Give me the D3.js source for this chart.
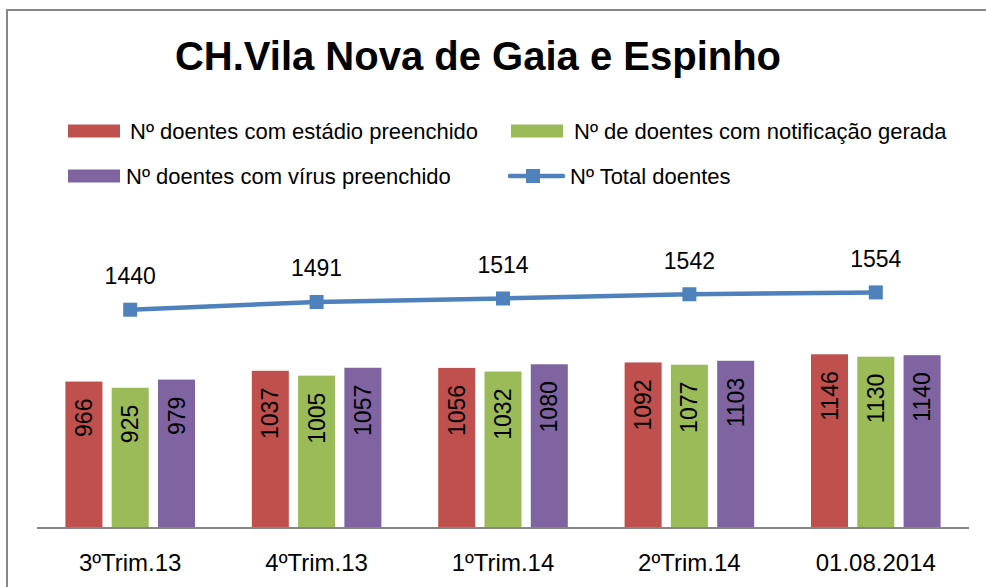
<!DOCTYPE html>
<html>
<head>
<meta charset="utf-8">
<script src="https://cdn.jsdelivr.net/npm/d3@7"></script>
<style>
  html, body { margin: 0; background: #fff; overflow: hidden; }
  svg { display: block; }
  text { font-family: "Liberation Sans", Arial, sans-serif; fill: #000; }
</style>
</head>
<body>
<div id="chart"></div>
<script>
var categories = ["3ºTrim.13", "4ºTrim.13", "1ºTrim.14", "2ºTrim.14", "01.08.2014"];
var seriesNames = ["Nº  doentes com estádio preenchido", "Nº de doentes com notificação gerada", "Nº  doentes com vírus preenchido"];
var estadio = [966, 1037, 1056, 1092, 1146];
var notificacao = [925, 1005, 1032, 1077, 1130];
var virus = [979, 1057, 1080, 1103, 1140];
var totalName = "Nº  Total doentes";
var total = [1440, 1491, 1514, 1542, 1554];

var colors = ["#C0504D", "#9BBB59", "#8064A2"];
var lineColor = "#4F81BD";

var width = 986,
    height = 587;

var svg = d3.select("#chart")
    .append("svg")
    .attr("width", width)
    .attr("height", height);

// chart border: only left and top edges are visible in the original
svg.append("path")
    .attr("d", "M7," + height + "V10H" + width)
    .attr("fill", "none")
    .attr("stroke", "#868686")
    .attr("stroke-width", 2);

svg.append("text")
    .attr("x", 478)
    .attr("y", 70)
    .attr("text-anchor", "middle")
    .style("font-size", "40px")
    .style("font-weight", "bold")
    .text("CH.Vila Nova de Gaia e Espinho");

var x0 = d3.scaleBand()
    .domain(categories)
    .range([37, 969]);

var x1 = d3.scaleBand()
    .domain([0, 1, 2])
    .range([28.4, 158])
    .paddingInner(0.2);

var y = d3.scaleLinear()
    .domain([0, 2000])
    .range([528, 224.8]);

var barData = [estadio, notificacao, virus];

var group = svg.selectAll(".cat")
    .data(categories)
    .enter().append("g")
      .attr("class", "cat")
      .attr("transform", function(d) { return "translate(" + x0(d) + ",0)"; });

group.selectAll("rect")
    .data(function(d, i) { return barData.map(function(s, k) { return {k: k, v: s[i]}; }); })
    .enter().append("rect")
      .attr("x", function(d) { return x1(d.k); })
      .attr("y", function(d) { return y(d.v); })
      .attr("width", x1.bandwidth())
      .attr("height", function(d) { return y(0) - y(d.v); })
      .attr("fill", function(d) { return colors[d.k]; });

group.selectAll(".barLabel")
    .data(function(d, i) { return barData.map(function(s, k) { return {k: k, v: s[i]}; }); })
    .enter().append("text")
      .attr("class", "barLabel")
      .attr("transform", function(d) {
        return "translate(" + (x1(d.k) + x1.bandwidth() / 2) + "," + (y(d.v) + 17) + ") rotate(-90)";
      })
      .attr("text-anchor", "end")
      .attr("dy", ".35em")
      .style("font-size", "23px")
      .text(function(d) { return d.v; });

// axis baseline
svg.append("line")
    .attr("x1", 37)
    .attr("x2", 969)
    .attr("y1", y(0))
    .attr("y2", y(0))
    .attr("stroke", "#868686")
    .attr("stroke-width", 2);

svg.selectAll(".catLabel")
    .data(categories)
    .enter().append("text")
      .attr("class", "catLabel")
      .attr("x", function(d) { return x0(d) + x0.bandwidth() / 2; })
      .attr("y", 571)
      .attr("text-anchor", "middle")
      .style("font-size", "24px")
      .text(function(d) { return d; });

// total line
var cx = function(d, i) { return x0(categories[i]) + x0.bandwidth() / 2; };

var line = d3.line()
    .x(cx)
    .y(function(d) { return y(d); });

svg.append("path")
    .datum(total)
    .attr("d", line)
    .attr("fill", "none")
    .attr("stroke", lineColor)
    .attr("stroke-width", 4.5);

svg.selectAll(".marker")
    .data(total)
    .enter().append("rect")
      .attr("class", "marker")
      .attr("x", function(d, i) { return cx(d, i) - 7; })
      .attr("y", function(d) { return y(d) - 7; })
      .attr("width", 14)
      .attr("height", 14)
      .attr("fill", lineColor);

svg.selectAll(".totalLabel")
    .data(total)
    .enter().append("text")
      .attr("class", "totalLabel")
      .attr("x", cx)
      .attr("y", function(d) { return y(d) - 25.5; })
      .attr("text-anchor", "middle")
      .style("font-size", "23px")
      .text(function(d) { return d; });

// legend
var legendItems = [
  {x: 68, y: 131, name: seriesNames[0], color: colors[0], tx: 130},
  {x: 511, y: 131, name: seriesNames[1], color: colors[1], tx: 574},
  {x: 68, y: 176, name: seriesNames[2], color: colors[2], tx: 126}
];

var legend = svg.selectAll(".legend")
    .data(legendItems)
    .enter().append("g")
      .attr("class", "legend");

legend.append("rect")
    .attr("x", function(d) { return d.x; })
    .attr("y", function(d) { return d.y - 6.5; })
    .attr("width", 52)
    .attr("height", 13)
    .attr("fill", function(d) { return d.color; });

legend.append("text")
    .attr("x", function(d) { return d.tx; })
    .attr("y", function(d) { return d.y + 7.5; })
    .style("font-size", "22px")
    .text(function(d) { return d.name; });

var lineLegend = svg.append("g");
lineLegend.append("line")
    .attr("x1", 510)
    .attr("x2", 563)
    .attr("y1", 176)
    .attr("y2", 176)
    .attr("stroke", lineColor)
    .attr("stroke-width", 4.5)
    .attr("stroke-linecap", "round");
lineLegend.append("rect")
    .attr("x", 526)
    .attr("y", 169)
    .attr("width", 14)
    .attr("height", 14)
    .attr("fill", lineColor);
lineLegend.append("text")
    .attr("x", 570)
    .attr("y", 183.5)
    .style("font-size", "22px")
    .text(totalName);
</script>
</body>
</html>
